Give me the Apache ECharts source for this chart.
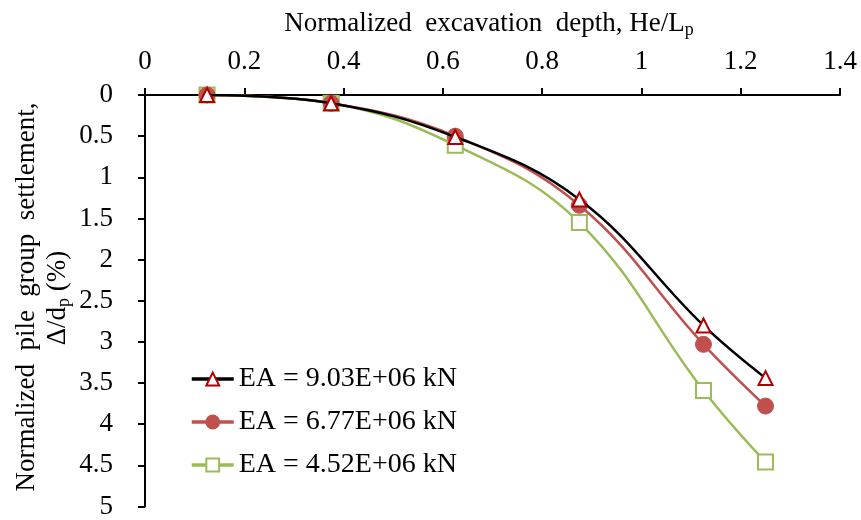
<!DOCTYPE html>
<html>
<head>
<meta charset="utf-8">
<script src="https://cdn.jsdelivr.net/npm/echarts@6/dist/echarts.min.js"></script>
<style>html,body{margin:0;padding:0;background:#fff}#c{width:861px;height:520px}</style>
</head>
<body>
<div id="c"></div>
<script>
var depth = [0.125, 0.375, 0.625, 0.875, 1.125, 1.25];
var settleEA903 = [0, 0.10, 0.51, 1.27, 2.80, 3.44];
var settleEA677 = [0, 0.10, 0.50, 1.34, 3.03, 3.78];
var settleEA452 = [0, 0.10, 0.61, 1.55, 3.59, 4.46];
var seriesNames = ['EA = 9.03E+06 kN', 'EA = 6.77E+06 kN', 'EA = 4.52E+06 kN'];
var xTicks = [0, 0.2, 0.4, 0.6, 0.8, 1, 1.2, 1.4];
var yTicks = [0, 0.5, 1, 1.5, 2, 2.5, 3, 3.5, 4, 4.5, 5];

var FONT = "'Liberation Serif','Times New Roman',serif";
function pairs(ys){ return depth.map(function(x,i){ return [x, ys[i]]; }); }

var chart = echarts.init(document.getElementById('c'), null, {renderer:'canvas'});
chart.setOption({
  animation: false,
  backgroundColor: '#fff',
  textStyle: {fontFamily: FONT, color: '#000'},
  grid: {left: 145, right: 21, top: 95, bottom: 11, containLabel: false},
  xAxis: {
    type: 'value', position: 'top',
    min: xTicks[0], max: xTicks[xTicks.length-1], interval: 0.2,
    axisLine: {show: true, onZero: false, lineStyle: {color: '#000', width: 2}},
    axisTick: {show: true, length: 7, lineStyle: {color: '#000', width: 2}},
    axisLabel: {fontSize: 27, fontFamily: FONT, color: '#000', margin: 20},
    splitLine: {show: false}
  },
  yAxis: {
    type: 'value', inverse: true,
    min: yTicks[0], max: yTicks[yTicks.length-1], interval: 0.5,
    axisLine: {show: true, onZero: false, lineStyle: {color: '#000', width: 2}},
    axisTick: {show: true, length: 7, lineStyle: {color: '#000', width: 2}},
    axisLabel: {fontSize: 27, fontFamily: FONT, color: '#000', margin: 32},
    splitLine: {show: false}
  },
  legend: {
    orient: 'vertical', left: 190, top: 365, padding: 0,
    itemWidth: 42, itemHeight: 16, itemGap: 15, itemTextGap: 4,
    lineStyle: {width: 3.5, inactiveWidth: 3.5},
    textStyle: {fontSize: 28, fontFamily: FONT, color: '#000', lineHeight: 28},
    data: seriesNames
  },
  graphic: [
    {
      type: 'text', x: 489, y: 24, z: 10,
      style: {
        rich: {
          a: {fontSize: 27, fontFamily: FONT, fill: '#000'},
          b: {fontSize: 18, fontFamily: FONT, fill: '#000', padding: [13,0,0,0]}
        },
        text: '{a|Normalized  excavation  depth, He/L}{b|p}',
        align: 'center', verticalAlign: 'middle'
      }
    },
    {
      type: 'text', x: 27, y: 297, rotation: Math.PI/2, z: 10,
      style: {
        text: 'Normalized  pile  group  settlement,',
        fontSize: 27, fontFamily: FONT, fill: '#000', align: 'center', verticalAlign: 'middle'
      }
    },
    {
      type: 'text', x: 58, y: 298, rotation: Math.PI/2, z: 10,
      style: {
        rich: {
          a: {fontSize: 27, fontFamily: FONT, fill: '#000'},
          b: {fontSize: 18, fontFamily: FONT, fill: '#000', padding: [13,0,0,0]}
        },
        text: '{a|Δ/d}{b|p}{a| (%)}',
        align: 'center', verticalAlign: 'middle'
      }
    }
  ],
  series: [
    {
      name: seriesNames[0], type: 'line', data: pairs(settleEA903),
      smooth: 0.4, symbol: 'triangle', symbolSize: 14, z: 4,
      lineStyle: {color: '#000', width: 2.5},
      itemStyle: {color: '#fff', borderColor: '#B00000', borderWidth: 2}
    },
    {
      name: seriesNames[1], type: 'line', data: pairs(settleEA677),
      smooth: 0.4, symbol: 'circle', symbolSize: 16, z: 3,
      lineStyle: {color: '#C0504D', width: 2.5},
      itemStyle: {color: '#C0504D', borderColor: '#C0504D', borderWidth: 1}
    },
    {
      name: seriesNames[2], type: 'line', data: pairs(settleEA452),
      smooth: 0.4, symbol: 'rect', symbolSize: 15, z: 2,
      lineStyle: {color: '#9BBB59', width: 2.5},
      itemStyle: {color: '#fff', borderColor: '#9BBB59', borderWidth: 2}
    }
  ]
});
</script>
</body>
</html>
